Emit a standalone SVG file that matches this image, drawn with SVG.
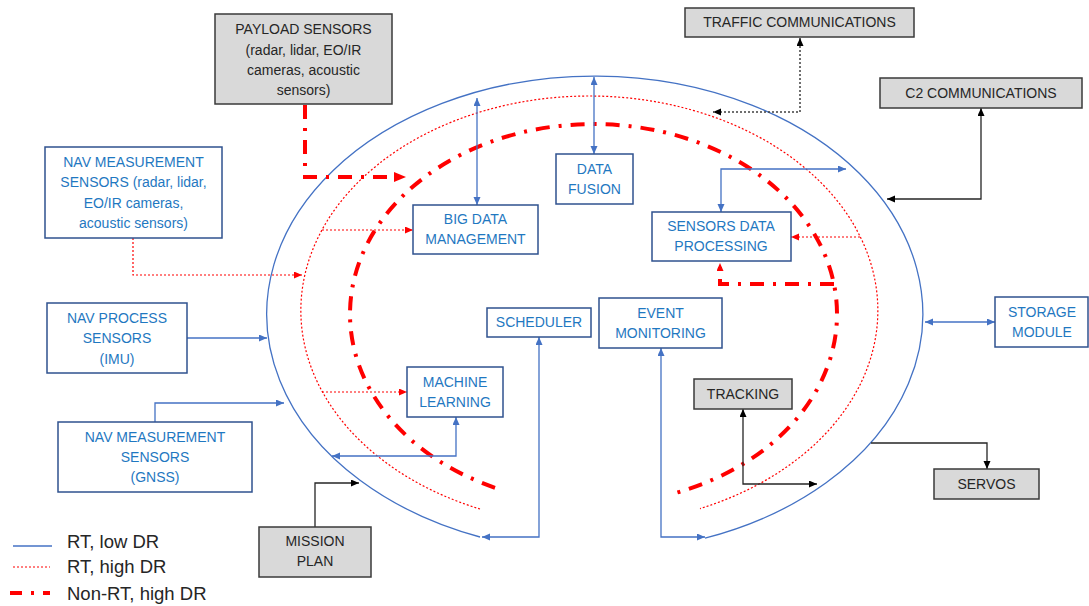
<svg xmlns="http://www.w3.org/2000/svg" width="1089" height="606" viewBox="0 0 1089 606">
  <style>
    .box { fill: #ffffff; stroke: #2f528f; stroke-width: 1.5; }
    .gbox { fill: #d9d9d9; stroke: #3a3a3a; stroke-width: 1.5; }
    .t { font-family: "Liberation Sans", Arial, sans-serif; font-size: 14px; text-anchor: middle; fill: #1f78c1; }
    .gt { font-family: "Liberation Sans", Arial, sans-serif; font-size: 14px; text-anchor: middle; fill: #262626; }
    .lt { font-family: "Liberation Sans", Arial, sans-serif; font-size: 18.5px; fill: #262626; }
    .blue { fill: none; stroke: #4472c4; stroke-width: 1.3; }
    .rdot { fill: none; stroke: #ff0000; stroke-width: 1.2; stroke-dasharray: 2 2; }
    .rdd { fill: none; stroke: #ff0000; stroke-width: 4; stroke-dasharray: 14 9 3 9; }
    .blk { fill: none; stroke: #262626; stroke-width: 1.3; }
    .gdot { fill: none; stroke: #404040; stroke-width: 1.5; stroke-dasharray: 2 2; }
  </style>
  <defs>
    <marker id="ab" markerUnits="userSpaceOnUse" markerWidth="9" markerHeight="8" refX="8" refY="3.5" orient="auto-start-reverse">
      <path d="M0,0 L8,3.5 L0,7 z" fill="#4472c4"/>
    </marker>
    <marker id="ak" markerUnits="userSpaceOnUse" markerWidth="9" markerHeight="8" refX="8" refY="3.5" orient="auto-start-reverse">
      <path d="M0,0 L8,3.5 L0,7 z" fill="#000000"/>
    </marker>
    <marker id="ar" markerUnits="userSpaceOnUse" markerWidth="9" markerHeight="8" refX="8" refY="3.5" orient="auto-start-reverse">
      <path d="M0,0 L8,3.5 L0,7 z" fill="#ff0000"/>
    </marker>
    <marker id="arb" markerUnits="userSpaceOnUse" markerWidth="13" markerHeight="11" refX="12" refY="5" orient="auto-start-reverse">
      <path d="M0,0 L12,5 L0,10 z" fill="#ff0000"/>
    </marker>
  </defs>

  <!-- data-rate rings -->
  <g id="rings">
    <path class="blue" d="M480,537 A328,238 0 1 1 705,538.2"/>
    <path class="rdot" d="M480,509 A288.5,214.5 0 1 1 700,508.6"/>
    <path class="rdd" d="M495,487.8 A243.5,190 0 1 1 672,493.9"/>
  </g>

  <!-- connectors -->
  <g id="connectors">
    <path class="rdd" d="M305,105 V177 H406" marker-end="url(#arb)"/>
    <path class="gdot" d="M800,38 V112 H713" marker-start="url(#ak)" marker-end="url(#ak)"/>
    <path class="blk" d="M981,108 V199 H887" marker-start="url(#ak)" marker-end="url(#ak)"/>
    <path class="rdot" d="M133,238 V275 H302" marker-end="url(#ar)"/>
    <path class="rdot" d="M322,230 H413" marker-end="url(#ar)"/>
    <path class="rdot" d="M322,392 H407" marker-end="url(#ar)"/>
    <path class="rdot" d="M860,237 H791" marker-end="url(#ar)"/>
    <path class="blue" d="M477,98 V205" marker-start="url(#ab)" marker-end="url(#ab)"/>
    <path class="blue" d="M594,77 V154" marker-start="url(#ab)" marker-end="url(#ab)"/>
    <path class="blue" d="M721,212 V169 H846" marker-start="url(#ab)" marker-end="url(#ab)"/>
    <path class="rdd" d="M834,284 H720 V263" marker-end="url(#ar)"/>
    <path class="blue" d="M187,338 H267" marker-end="url(#ab)"/>
    <path class="blue" d="M155,422 V403 H284" marker-end="url(#ab)"/>
    <path class="blue" d="M456,417 V456 H332" marker-start="url(#ab)" marker-end="url(#ab)"/>
    <path class="blue" d="M539,337 V537 H482" marker-start="url(#ab)" marker-end="url(#ab)"/>
    <path class="blue" d="M661,348 V537 H705" marker-start="url(#ab)" marker-end="url(#ab)"/>
    <path class="blue" d="M925,322 H995" marker-start="url(#ab)" marker-end="url(#ab)"/>
    <path class="blk" d="M743,409 V484 H817" marker-start="url(#ak)" marker-end="url(#ak)"/>
    <path class="blk" d="M871,443 H987 V469" marker-end="url(#ak)"/>
    <path class="blk" d="M315,527 V483 H359" marker-end="url(#ak)"/>
  </g>

  <!-- nodes -->
  <g id="payload-sensors">
    <rect class="gbox" x="215" y="14" width="177" height="90"/>
    <text class="gt" x="303.5" y="34">PAYLOAD SENSORS</text>
    <text class="gt" x="303.5" y="55">(radar, lidar, EO/IR</text>
    <text class="gt" x="303.5" y="75">cameras, acoustic</text>
    <text class="gt" x="303.5" y="95">sensors)</text>
  </g>
  <g id="traffic-communications">
    <rect class="gbox" x="685" y="8" width="229" height="29"/>
    <text class="gt" x="799.5" y="27">TRAFFIC COMMUNICATIONS</text>
  </g>
  <g id="c2-communications">
    <rect class="gbox" x="880" y="78" width="202" height="30"/>
    <text class="gt" x="981" y="97.5">C2 COMMUNICATIONS</text>
  </g>
  <g id="nav-measurement-radar">
    <rect class="box" x="45" y="147" width="177" height="91"/>
    <text class="t" x="133.5" y="167">NAV MEASUREMENT</text>
    <text class="t" x="133.5" y="187">SENSORS (radar, lidar,</text>
    <text class="t" x="133.5" y="207.5">EO/IR cameras,</text>
    <text class="t" x="133.5" y="227.5">acoustic sensors)</text>
  </g>
  <g id="big-data-management">
    <rect class="box" x="413" y="205" width="125" height="49"/>
    <text class="t" x="475.5" y="224">BIG DATA</text>
    <text class="t" x="475.5" y="244">MANAGEMENT</text>
  </g>
  <g id="data-fusion">
    <rect class="box" x="556" y="154" width="77" height="50"/>
    <text class="t" x="594.5" y="174">DATA</text>
    <text class="t" x="594.5" y="194">FUSION</text>
  </g>
  <g id="sensors-data-processing">
    <rect class="box" x="652" y="212" width="139" height="49"/>
    <text class="t" x="721" y="231">SENSORS DATA</text>
    <text class="t" x="721" y="251">PROCESSING</text>
  </g>
  <g id="nav-process-sensors">
    <rect class="box" x="47" y="303" width="140" height="70"/>
    <text class="t" x="117" y="323">NAV PROCESS</text>
    <text class="t" x="117" y="343">SENSORS</text>
    <text class="t" x="117" y="364">(IMU)</text>
  </g>
  <g id="scheduler">
    <rect class="box" x="487" y="308" width="104" height="29"/>
    <text class="t" x="539" y="327">SCHEDULER</text>
  </g>
  <g id="event-monitoring">
    <rect class="box" x="599" y="298" width="123" height="50"/>
    <text class="t" x="660.5" y="318">EVENT</text>
    <text class="t" x="660.5" y="338">MONITORING</text>
  </g>
  <g id="storage-module">
    <rect class="box" x="995" y="297" width="93" height="50"/>
    <text class="t" x="1042" y="317">STORAGE</text>
    <text class="t" x="1042" y="337">MODULE</text>
  </g>
  <g id="machine-learning">
    <rect class="box" x="407" y="367" width="96" height="50"/>
    <text class="t" x="455" y="387">MACHINE</text>
    <text class="t" x="455" y="407">LEARNING</text>
  </g>
  <g id="tracking">
    <rect class="gbox" x="694" y="379" width="98" height="30"/>
    <text class="gt" x="743" y="399">TRACKING</text>
  </g>
  <g id="nav-measurement-gnss">
    <rect class="box" x="58" y="422" width="194" height="70"/>
    <text class="t" x="155" y="442">NAV MEASUREMENT</text>
    <text class="t" x="155" y="462">SENSORS</text>
    <text class="t" x="155" y="482">(GNSS)</text>
  </g>
  <g id="servos">
    <rect class="gbox" x="934" y="469" width="105" height="30"/>
    <text class="gt" x="986.5" y="489">SERVOS</text>
  </g>
  <g id="mission-plan">
    <rect class="gbox" x="259" y="527" width="112" height="50"/>
    <text class="gt" x="315" y="546">MISSION</text>
    <text class="gt" x="315" y="566">PLAN</text>
  </g>

  <!-- legend -->
  <g id="legend">
    <line class="blue" x1="13" y1="546" x2="52" y2="546"/>
    <text class="lt" x="67" y="548">RT, low DR</text>
    <line class="rdot" x1="13" y1="567" x2="50" y2="567"/>
    <text class="lt" x="67" y="573">RT, high DR</text>
    <line x1="10" y1="593" x2="50" y2="593" stroke="#ff0000" stroke-width="4" stroke-dasharray="12 9 3 9"/>
    <text class="lt" x="67" y="600">Non-RT, high DR</text>
  </g>
</svg>
